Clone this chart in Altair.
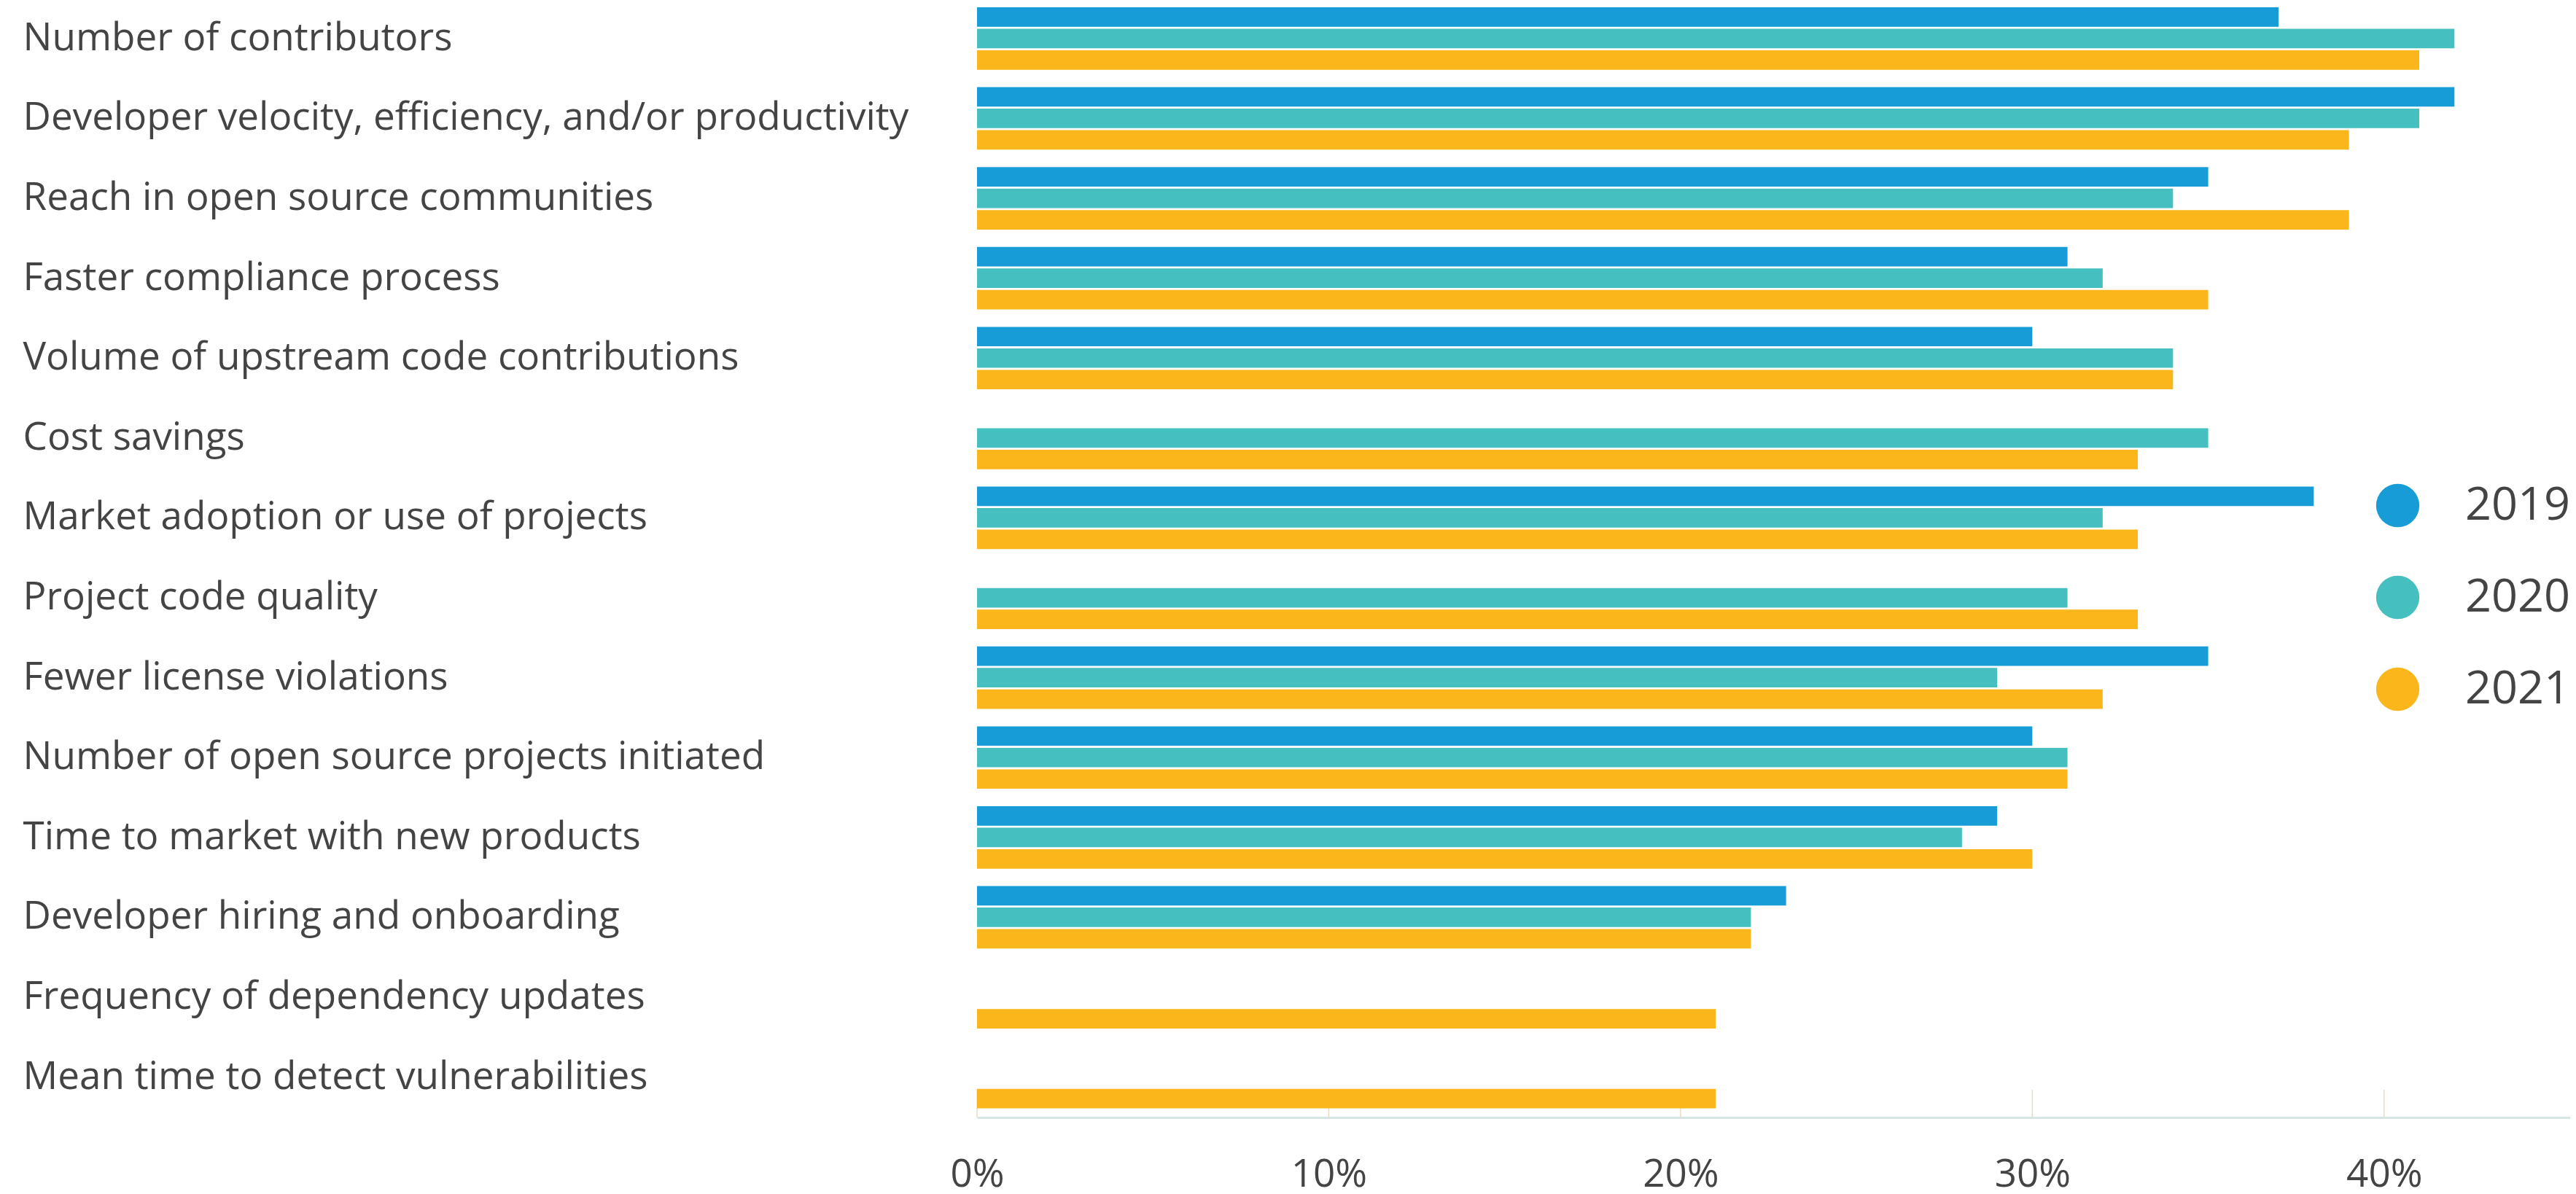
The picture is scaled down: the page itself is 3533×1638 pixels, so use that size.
import altair as alt
import pandas as pd

categories = [
    "Number of contributors",
    "Developer velocity, efficiency, and/or productivity",
    "Reach in open source communities",
    "Faster compliance process",
    "Volume of upstream code contributions",
    "Cost savings",
    "Market adoption or use of projects",
    "Project code quality",
    "Fewer license violations",
    "Number of open source projects initiated",
    "Time to market with new products",
    "Developer hiring and onboarding",
    "Frequency of dependency updates",
    "Mean time to detect vulnerabilities",
]
years = ["2019", "2020", "2021"]
v2019 = [37, 42, 35, 31, 30, 0, 38, None, 35, 30, 29, 23, None, None]
v2020 = [42, 41, 34, 32, 34, 35, 32, 31, 29, 31, 28, 22, None, None]
v2021 = [41, 39, 39, 35, 34, 33, 33, 33, 32, 31, 30, 22, 21, 21]
tick_values = [0, 10, 20, 30, 40]
colors = ["#179CD8", "#45BFBF", "#FAB61B"]

rows = []
for yr, vals in zip(years, [v2019, v2020, v2021]):
    for c, v in zip(categories, vals):
        if v is not None:
            rows.append({"category": c, "year": yr, "value": v})
df = pd.DataFrame(rows)
ticks_df = pd.DataFrame({"t": tick_values})

W = 2185
H = 1525
XMAX = 45.29
FONT = "Open Sans"
TXT = "#444444"

xscale = alt.Scale(domain=[0, XMAX], nice=False, zero=True)

bars = alt.Chart(df).mark_bar().encode(
    x=alt.X("value:Q", scale=xscale,
            axis=alt.Axis(values=tick_values, labelExpr="datum.value + '%'",
                          grid=False, ticks=False, domain=True,
                          domainColor="#d6e6e6", domainWidth=3,
                          labelFlush=False,
                          labelFont=FONT, labelFontSize=53, labelColor=TXT,
                          labelPadding=52, title=None)),
    y=alt.Y("category:N", sort=categories,
            scale=alt.Scale(paddingInner=0.218, paddingOuter=0.0661, align=0.138),
            axis=alt.Axis(title=None, domain=False, ticks=False,
                          labelAlign="left", labelBaseline="middle",
                          labelPadding=1309, labelLimit=1300,
                          labelFont=FONT, labelFontSize=53, labelColor=TXT)),
    yOffset=alt.YOffset("year:N", sort=years,
                        scale=alt.Scale(paddingInner=0.095, paddingOuter=0)),
    color=alt.Color("year:N", sort=years,
                    scale=alt.Scale(domain=years, range=colors),
                    legend=alt.Legend(title=None, orient="none",
                                      legendX=1917, legendY=654,
                                      padding=0,
                                      symbolType="circle", symbolSize=3525,
                                      symbolStrokeWidth=0,
                                      labelFont=FONT, labelFontSize=63,
                                      labelColor=TXT, labelOffset=61,
                                      rowPadding=62)),
)

rules = alt.Chart(ticks_df).mark_rule(color="#eadcc0", strokeWidth=1.5).encode(
    x=alt.X("t:Q", scale=xscale),
    y=alt.value(H - 38),
    y2=alt.value(H),
)

chart = alt.layer(rules, bars).properties(
    width=W,
    height=H,
    autosize=alt.AutoSizeParams(type="none"),
    padding={"left": 1332, "top": 0, "right": 0, "bottom": 112},
).configure_view(stroke=None)

chart.save("out.html", embed_options={"renderer": "svg", "actions": False})
